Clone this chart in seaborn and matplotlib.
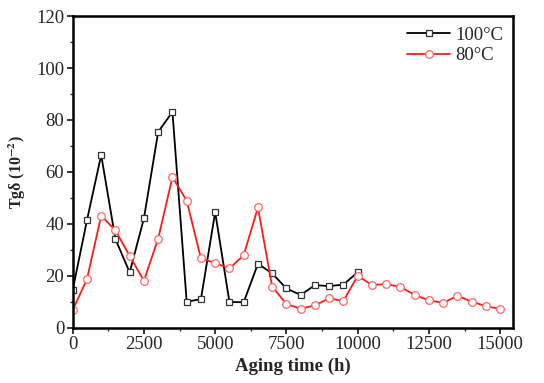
import numpy as np
import pandas as pd
import matplotlib
matplotlib.use("Agg")
import matplotlib.pyplot as plt
from matplotlib.ticker import MultipleLocator
import seaborn as sns

# aging times (h)
hours_100 = [0, 500, 1000, 1500, 2000, 2500, 3000, 3500, 4000, 4500, 5000,
             5500, 6000, 6500, 7000, 7500, 8000, 8500, 9000, 9500, 10000]
tg_100 = [14.5, 41.3, 66.5, 34.1, 21.3, 42.1, 75.4, 83.1, 10.0, 11.0, 44.5,
          9.9, 9.8, 24.6, 20.9, 15.1, 12.6, 16.4, 16.0, 16.6, 21.4]

hours_80 = [0, 500, 1000, 1500, 2000, 2500, 3000, 3500, 4000, 4500, 5000,
            5500, 6000, 6500, 7000, 7500, 8000, 8500, 9000, 9500, 10000,
            10500, 11000, 11500, 12000, 12500, 13000, 13500, 14000, 14500, 15000]
tg_80 = [6.8, 18.6, 43.1, 37.5, 27.6, 18.1, 34.3, 58.0, 48.9, 26.7, 24.9,
         22.8, 27.9, 46.3, 15.8, 9.1, 7.3, 8.6, 11.3, 10.3, 20.0,
         16.4, 16.8, 15.7, 12.6, 10.5, 9.6, 12.3, 10.0, 8.3, 7.2]

sns.set_style("ticks")
plt.rcParams['font.family'] = ['Liberation Serif', 'DejaVu Serif']
plt.rcParams['mathtext.fontset'] = 'stix'

fig = plt.figure(figsize=(5.44, 3.83), dpi=100)
ax = fig.add_axes([0.1336, 0.1444, 0.81, 0.8136])

sns.lineplot(x=hours_100, y=tg_100, ax=ax, color='black', lw=1.3,
             marker='s', markersize=5, markerfacecolor='white',
             markeredgecolor='#333333', markeredgewidth=0.9, label='100°C')
sns.lineplot(x=hours_80, y=tg_80, ax=ax, color='#ff1a1a', lw=1.3,
             marker='o', markersize=5.5, markerfacecolor='white',
             markeredgecolor='#ff6666', markeredgewidth=0.9, label='80°C')

ax.set_xlim(0, 15460)
ax.set_ylim(0, 120)
ax.xaxis.set_major_locator(MultipleLocator(2500))
ax.xaxis.set_minor_locator(MultipleLocator(1250))
ax.yaxis.set_major_locator(MultipleLocator(20))
ax.yaxis.set_minor_locator(MultipleLocator(10))
ax.tick_params(which='major', direction='out', length=4, width=1.3, labelsize=13.5, pad=2)
ax.tick_params(which='minor', direction='out', length=2.5, width=1.0)
for s in ax.spines.values():
    s.set_linewidth(1.8)
    s.set_color('black')

ax.set_xlabel('Aging time (h)', fontsize=13.5, fontweight='bold', labelpad=3)
ax.set_ylabel(r'Tgδ (10$^{\mathbf{-2}}$)', fontsize=11.5, fontweight='bold', labelpad=6)

ax.legend(loc='upper right', frameon=False, fontsize=13.5, handlelength=2.3,
          handletextpad=0.25, labelspacing=0.2, borderaxespad=0.15)

fig.savefig('out.png', dpi=100)
